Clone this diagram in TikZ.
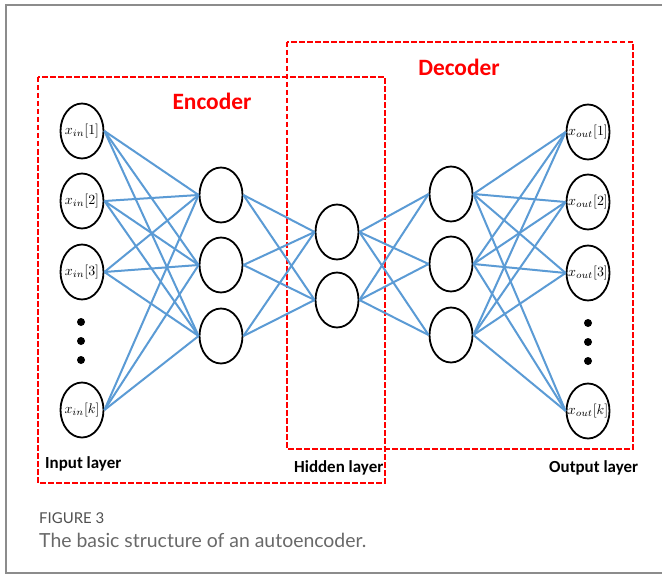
\documentclass[tikz,border=0pt]{standalone}
\usepackage[no-math]{fontspec}
\setmainfont{Carlito}
\newfontfamily\capfont{Lato}
\usetikzlibrary{shapes.geometric}
\definecolor{nnblue}{RGB}{91,155,213}
\definecolor{capgray}{RGB}{105,105,105}
\definecolor{figgray}{RGB}{80,80,80}
\definecolor{framegray}{RGB}{140,140,140}
\newcommand{\nlab}[1]{\scalebox{1.4}{$#1$}}
\begin{document}
\begin{tikzpicture}[x=1bp,y=-1bp,
  neuron/.style={draw=black,line width=1.8bp,ellipse,minimum width=43bp,minimum height=55bp,inner sep=0pt},
  nlabel/.style={inner sep=0pt},
  link/.style={draw=nnblue,line width=2bp},
  redbox/.style={draw=red,line width=2bp,dash pattern=on 5.5bp off 2.5bp},
  boxtitle/.style={text=red,font=\fontsize{23.5}{23.5}\selectfont\bfseries,inner sep=0pt},
  layertext/.style={font=\fontsize{17}{17}\selectfont\bfseries,inner sep=0pt,anchor=base west},
  dotmark/.style={fill=black,circle,inner sep=0pt,minimum size=8bp}]
\useasboundingbox (0,0) rectangle (662,575);
\fill[white] (0,0) rectangle (662,575);
\draw[framegray,line width=1.3bp] (662,5) -- (6,5) -- (6,573) -- (662,573);

% boxes
\draw[redbox] (38,77) rectangle (385,483);
\draw[redbox] (287,42) rectangle (633,449);
\node[boxtitle] (enc) at (212,101) {Encoder};
\node[boxtitle] (dec) at (459,67) {Decoder};

% input layer
\node[neuron,label={[nlabel]center:\nlab{x_{in}[1]}}] (i1) at (82,131) {};
\node[neuron,label={[nlabel]center:\nlab{x_{in}[2]}}] (i2) at (82,201) {};
\node[neuron,label={[nlabel]center:\nlab{x_{in}[3]}}] (i3) at (82,272) {};
\node[neuron,label={[nlabel]center:\nlab{x_{in}[k]}}] (ik) at (82,410) {};
\node[dotmark] (di1) at (81,322) {};
\node[dotmark] (di2) at (81,341) {};
\node[dotmark] (di3) at (81,360) {};

% encoder hidden
\node[neuron] (h1) at (221,195) {};
\node[neuron] (h2) at (221,265) {};
\node[neuron] (h3) at (221,336) {};

% bottleneck
\node[neuron] (b1) at (337,232) {};
\node[neuron] (b2) at (337,300) {};

% decoder hidden
\node[neuron] (d1) at (451,194) {};
\node[neuron] (d2) at (451,264) {};
\node[neuron] (d3) at (451,335) {};

% output layer
\node[neuron,label={[nlabel]center:\nlab{x_{out}[1]}}] (o1) at (588,132) {};
\node[neuron,label={[nlabel]center:\nlab{x_{out}[2]}}] (o2) at (588,202) {};
\node[neuron,label={[nlabel]center:\nlab{x_{out}[3]}}] (o3) at (588,273) {};
\node[neuron,label={[nlabel]center:\nlab{x_{out}[k]}}] (ok) at (588,411) {};
\node[dotmark] (do1) at (588,323) {};
\node[dotmark] (do2) at (588,342) {};
\node[dotmark] (do3) at (588,361) {};

% connections
\foreach \a in {i1,i2,i3,ik}
  \foreach \b in {h1,h2,h3}
    \draw[link] (\a.east) -- (\b.west);
\foreach \a in {h1,h2,h3}
  \foreach \b in {b1,b2}
    \draw[link] (\a.east) -- (\b.west);
\foreach \a in {b1,b2}
  \foreach \b in {d1,d2,d3}
    \draw[link] (\a.east) -- (\b.west);
\foreach \a in {d1,d2,d3}
  \foreach \b in {o1,o2,o3,ok}
    \draw[link] (\a.east) -- (\b.west);

% layer labels
\node[layertext] (lin) at (45,468) {Input layer};
\node[layertext] (lhid) at (294,472) {Hidden layer};
\node[layertext] (lout) at (549,472) {Output layer};

% caption
\node[inner sep=0pt,anchor=base west,text=figgray,font=\capfont\fontsize{15}{15}\selectfont] (fig) at (39,523) {FIGURE 3};
\node[inner sep=0pt,anchor=base west,text=capgray,font=\capfont\fontsize{19.5}{19.5}\selectfont] (cap) at (39,547) {The basic structure of an autoencoder.};
\end{tikzpicture}
\end{document}
